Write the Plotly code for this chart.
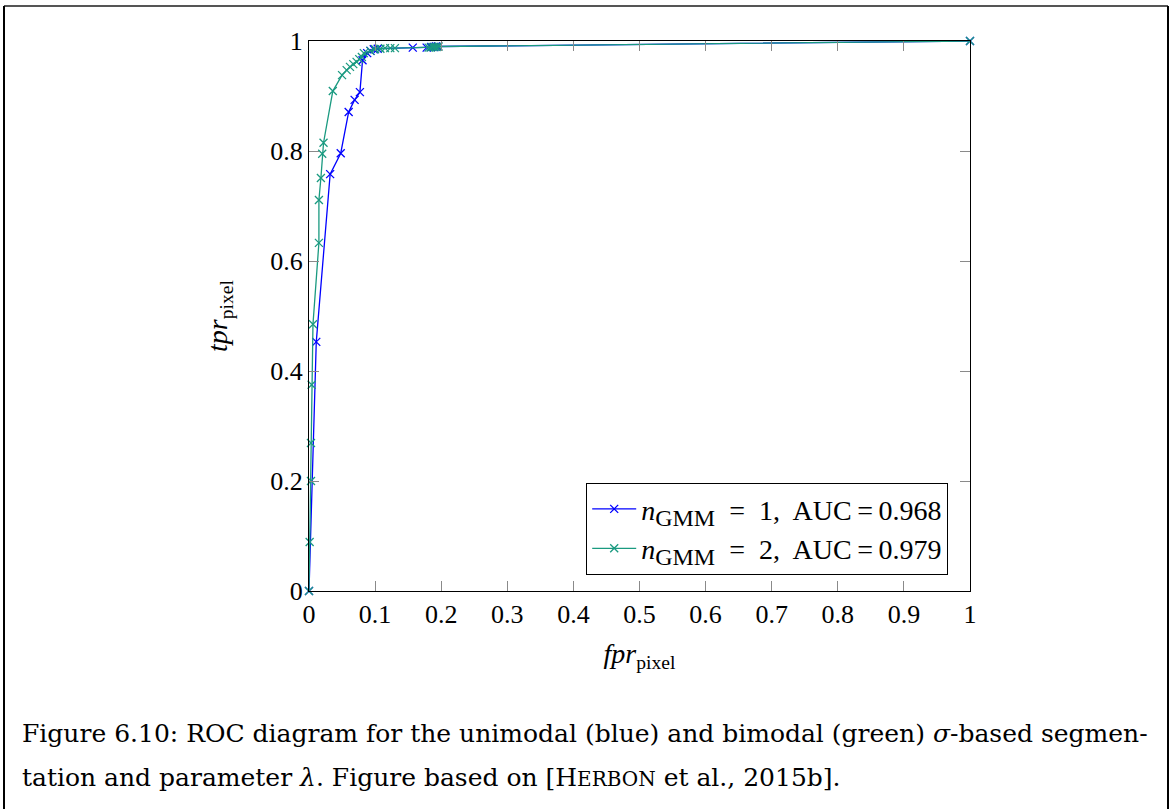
import plotly.graph_objects as go

# ---- data ----
blue_fpr = [0.0, 0.011, 0.032, 0.048, 0.060, 0.069, 0.077, 0.081, 0.088, 0.093, 0.098, 0.104,
            0.157, 0.178, 0.185, 0.189, 0.192, 0.195, 1.0]
blue_tpr = [0.0, 0.453, 0.758, 0.796, 0.871, 0.893, 0.907, 0.965, 0.978, 0.982, 0.985, 0.986,
            0.988, 0.988, 0.989, 0.989, 0.990, 0.990, 1.0]

green_fpr = [0.0, 0.001, 0.003, 0.003, 0.004, 0.006, 0.015, 0.015, 0.018, 0.020, 0.022, 0.036,
             0.050, 0.057, 0.062, 0.067, 0.072, 0.076, 0.080, 0.083, 0.093, 0.100, 0.108,
             0.115, 0.123, 0.130, 0.181, 0.184, 0.187, 0.190, 0.193, 0.196, 1.0]
green_tpr = [0.0, 0.089, 0.200, 0.269, 0.375, 0.485, 0.633, 0.711, 0.751, 0.795, 0.815, 0.909,
             0.938, 0.947, 0.953, 0.958, 0.962, 0.967, 0.971, 0.978, 0.982, 0.985, 0.986,
             0.987, 0.987, 0.987, 0.988, 0.988, 0.989, 0.989, 0.989, 0.990, 1.0]

SUB = "<sub><span style='font-size:24px'>GMM</span></sub>"
series_names = [f"<i>n</i>{SUB}&nbsp;&nbsp;=&nbsp;&nbsp;1,&nbsp; AUC&#8201;=&#8201;0.968",
                f"<i>n</i>{SUB}&nbsp;&nbsp;=&nbsp;&nbsp;2,&nbsp; AUC&#8201;=&#8201;0.979"]
x_ticks = [0, 0.1, 0.2, 0.3, 0.4, 0.5, 0.6, 0.7, 0.8, 0.9, 1]
y_ticks = [0, 0.2, 0.4, 0.6, 0.8, 1]

BLUE = "#0000ff"
GREEN = "#1a9a80"
FONT = "Liberation Serif"
CAPFONT = "DejaVu Serif"

W, H = 1172, 809
L, R, T, B = 309, 970, 41, 591  # plot area in pixels


def px(x):
    return (x - L) / (R - L)


def py(y):
    return (B - y) / (B - T)


fig = go.Figure()
for fx, ty, name, col in [(blue_fpr, blue_tpr, series_names[0], BLUE),
                          (green_fpr, green_tpr, series_names[1], GREEN)]:
    fig.add_trace(go.Scatter(
        x=fx, y=ty, mode="lines+markers", name=name,
        line=dict(color=col, width=1.3),
        marker=dict(symbol="x-thin", size=8, line=dict(color=col, width=1.3)),
        cliponaxis=False,
    ))

axis_common = dict(
    range=[0, 1], showgrid=False, zeroline=False,
    showline=True, linecolor="black", linewidth=1.2, mirror="allticks",
    ticks="inside", ticklen=10, tickcolor="#8a8a8a", tickwidth=1,
    tickfont=dict(family=FONT, size=26, color="black"),
)

fig.update_layout(
    width=W, height=H, autosize=False,
    margin=dict(l=L, r=W - R, t=T, b=H - B, pad=0),
    paper_bgcolor="white", plot_bgcolor="white",
    font=dict(family=FONT, color="black"),
    xaxis=dict(axis_common, tickvals=x_ticks,
               title=dict(text="<i>fpr</i><sub>pixel</sub>",
                          font=dict(family=FONT, size=28), standoff=15)),
    yaxis=dict(axis_common, tickvals=y_ticks,
               title=dict(text="<i>tpr</i><sub>pixel</sub>",
                          font=dict(family=FONT, size=28), standoff=34)),
    legend=dict(x=px(948), y=py(575), xanchor="right", yanchor="bottom",
                bordercolor="black", borderwidth=1.2, bgcolor="white",
                font=dict(family=FONT, size=28), tracegroupgap=0,
                itemwidth=44),
    showlegend=True,
)

# outer frame of the figure
fig.add_shape(type="line", xref="paper", yref="paper",
              x0=px(4), y0=py(6), x1=px(1168), y1=py(6),
              line=dict(color="#555555", width=2))
fig.add_shape(type="line", xref="paper", yref="paper",
              x0=px(4), y0=py(6), x1=px(4), y1=py(812),
              line=dict(color="black", width=2))
fig.add_shape(type="line", xref="paper", yref="paper",
              x0=px(1168), y0=py(6), x1=px(1168), y1=py(812),
              line=dict(color="black", width=2))

cap1 = ("Figure 6.10: ROC diagram for the unimodal (blue) and bimodal (green) "
        "<i>σ</i>-based segmen-")
cap2 = ("tation and parameter <i>λ</i>. Figure based on "
        "[H<span style='font-size:20px'>ERBON</span> et al., 2015b].")
fig.add_annotation(text=cap1, xref="paper", yref="paper", x=px(20), y=py(733),
                   xanchor="left", yanchor="middle", showarrow=False,
                   font=dict(family=CAPFONT, size=25, color="black"))
fig.add_annotation(text=cap2, xref="paper", yref="paper", x=px(20), y=py(777),
                   xanchor="left", yanchor="middle", showarrow=False,
                   font=dict(family=CAPFONT, size=25, color="black"))

fig.write_html("out.html",
               config={"displayModeBar": False},
               post_script="document.body.style.margin='0';"
                           "document.documentElement.style.margin='0';")
